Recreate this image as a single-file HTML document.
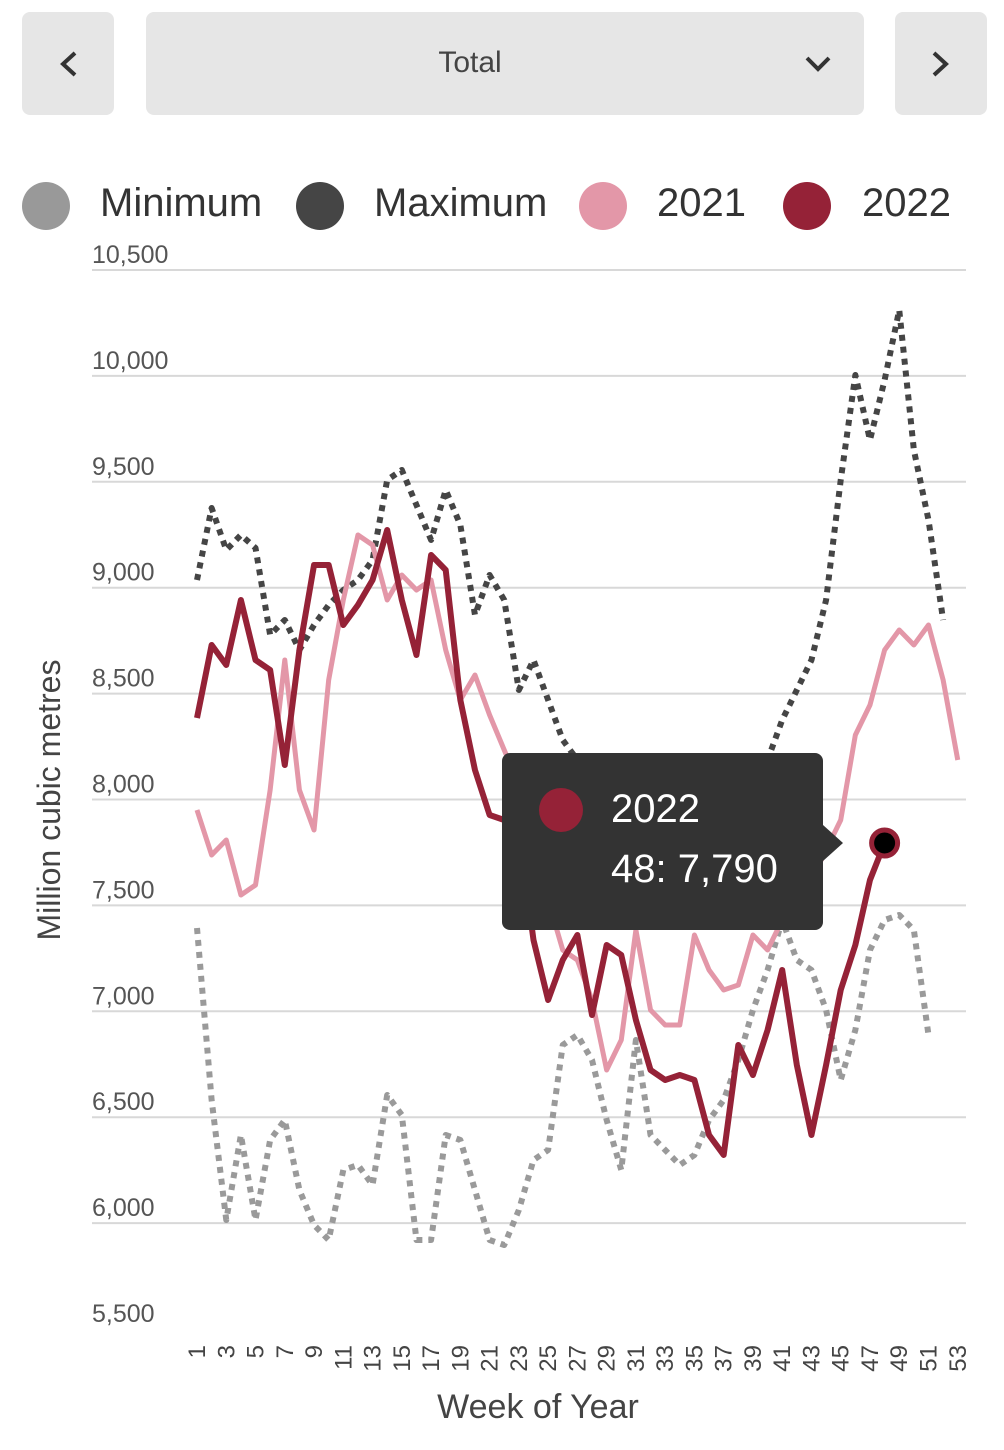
<!DOCTYPE html><html><head><meta charset="utf-8"><style>
body{margin:0;background:#fff;width:1004px;height:1445px;overflow:hidden;font-family:"Liberation Sans",sans-serif}
</style></head><body>
<svg id="s" width="1004" height="1445" xmlns="http://www.w3.org/2000/svg" font-family="Liberation Sans, sans-serif">
<rect x="22" y="12" width="92" height="103" rx="8" fill="#e6e6e6"/>
<rect x="146" y="12" width="718" height="103" rx="8" fill="#e6e6e6"/>
<rect x="895" y="12" width="92" height="103" rx="8" fill="#e6e6e6"/>
<path d="M75 53 L63 64 L75 75" fill="none" stroke="#333" stroke-width="4"/>
<path d="M934 53 L946 64 L934 75" fill="none" stroke="#333" stroke-width="4"/>
<path d="M807 58 L818 69 L829 58" fill="none" stroke="#333" stroke-width="4"/>
<text x="470" y="72" font-size="30" fill="#444" text-anchor="middle">Total</text>
<circle cx="46" cy="206" r="24" fill="#999"/><text x="100" y="216" font-size="40" fill="#333">Minimum</text>
<circle cx="320" cy="206" r="24" fill="#454545"/><text x="374" y="216" font-size="40" fill="#333">Maximum</text>
<circle cx="603" cy="206" r="24" fill="#e397a8"/><text x="657" y="216" font-size="40" fill="#333">2021</text>
<circle cx="807" cy="206" r="24" fill="#952237"/><text x="862" y="216" font-size="40" fill="#333">2022</text>
<g id="grid"></g>
<text transform="translate(60,800) rotate(-90)" font-size="32" fill="#444" text-anchor="middle">Million cubic metres</text>
<text x="538" y="1418" font-size="34" fill="#444" text-anchor="middle">Week of Year</text>
<g id="lines"></g>
<g>
<rect x="502" y="753" width="321" height="177" rx="8" fill="#333"/>
<path d="M823 825 L843 843 L823 861Z" fill="#333"/>
<circle cx="561" cy="810" r="22" fill="#952237"/>
<text x="611" y="822" font-size="40" fill="#fff">2022</text>
<text x="611" y="882" font-size="40" fill="#fff">48: 7,790</text>
</g>
</svg>
<script>
var ns="http://www.w3.org/2000/svg",g=document.getElementById('grid'),L=document.getElementById('lines');
function el(p,t,a){var e=document.createElementNS(ns,t);for(var k in a)e.setAttribute(k,a[k]);p.appendChild(e);return e;}
var labs=["10,500","10,000","9,500","9,000","8,500","8,000","7,500","7,000","6,500","6,000","5,500"];
for(var i=0;i<11;i++){var y=270+i*105.9;if(i<10)el(g,'line',{x1:92,x2:966,y1:y,y2:y,stroke:'#d8d8d8','stroke-width':2});
var t=el(g,'text',{x:92,y:y-7,'font-size':25,fill:'#555'});t.textContent=labs[i];}
function X(w){return 197+(w-1)*14.63;}
for(var w=1;w<=53;w+=2){var t=el(g,'text',{transform:'translate('+(X(w)+8)+',1345) rotate(-90)','font-size':24,fill:'#444','text-anchor':'end'});t.textContent=w;}
function line(d,c,wd,dash){var p=d.map(function(v,i){return X(i+1)+','+v}).join(' ');var a={points:p,fill:'none',stroke:c,'stroke-width':wd,'stroke-linejoin':'round'};if(dash)a['stroke-dasharray']=dash;el(L,'polyline',a);}
var mn=[928,1100,1220,1135,1220,1140,1120,1190,1225,1240,1170,1165,1185,1095,1115,1240,1240,1135,1140,1190,1240,1245,1210,1160,1150,1045,1035,1060,1120,1170,1040,1135,1150,1165,1155,1120,1100,1060,1010,970,920,960,970,1010,1080,1030,950,920,915,930,1035];
var mx=[580,508,550,535,548,635,620,650,625,605,590,580,560,480,470,505,540,490,525,615,575,600,690,660,700,740,760,790,800,810,820,820,820,820,820,810,790,780,770,760,720,690,660,600,480,375,440,380,310,450,520,620];
var a21=[810,855,840,895,885,790,660,790,830,680,600,535,545,600,575,590,580,650,700,675,715,750,785,850,900,950,960,1000,1070,1040,930,1010,1025,1025,935,970,990,985,935,950,920,900,880,850,820,735,705,650,630,645,625,680,760];
var a22=[718,645,665,600,660,670,765,650,565,565,625,605,580,530,600,655,555,570,700,770,815,820,830,940,1000,960,935,1015,945,955,1020,1070,1080,1075,1080,1135,1155,1045,1075,1030,970,1065,1135,1065,990,945,880,843];
line(mn,'#9a9a9a',6,'6 6');line(mx,'#454545',6,'6 6');line(a21,'#e397a8',5);line(a22,'#952237',6);
el(L,'circle',{cx:X(48),cy:843,r:13,fill:'#000',stroke:'#952237','stroke-width':5});
</script>
</body></html>
